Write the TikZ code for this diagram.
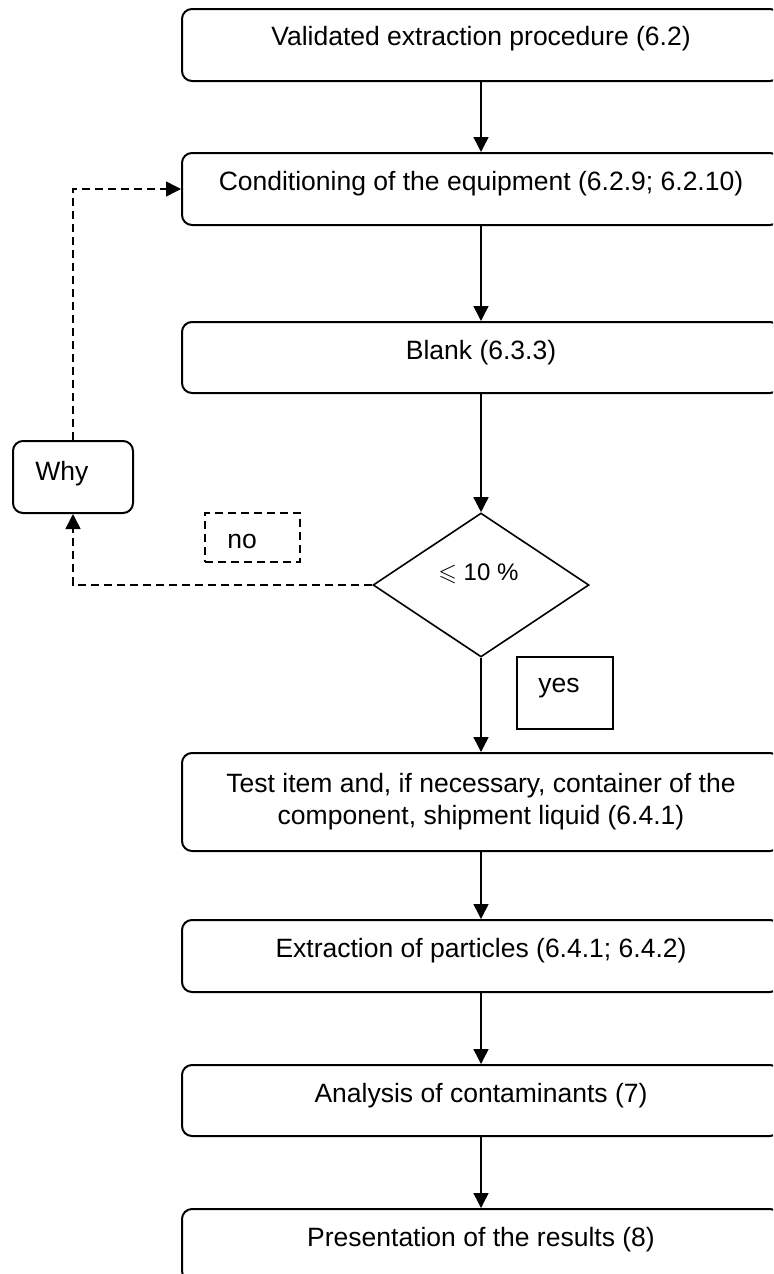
\documentclass[tikz,border=0pt]{standalone}
\usepackage{amssymb}
\usepackage{fontspec}
\setmainfont{Liberation Sans}
\usetikzlibrary{arrows.meta,shapes.geometric}
\tikzset{
  box/.style={draw, line width=1pt, rounded corners=5pt, minimum width=299pt, inner sep=0pt},
  sidebox/.style={draw, line width=1pt, rounded corners=5pt, minimum width=60pt, minimum height=36pt, inner sep=0pt},
  tagbox/.style={draw, line width=0.8pt, inner sep=0pt},
  txt/.style={anchor=base, inner sep=0pt, font=\fontsize{13.25}{16}\selectfont},
  ltxt/.style={txt, anchor=base west},
  decision/.style={draw, diamond, line width=0.8pt, inner sep=0pt, minimum width=108pt, minimum height=72pt},
  conn/.style={line width=0.75pt, -{Triangle[width=7.5pt,length=7.5pt]}},
  dconn/.style={conn, dash pattern=on 4pt off 2.5pt},
  dashbox/.style={tagbox, dash pattern=on 4pt off 2.5pt}
}
\begin{document}
\begin{tikzpicture}[x=0.5pt,y=-0.5pt]
\useasboundingbox (0,0) rectangle (773,1274);
\clip (0,0) rectangle (773,1274);

% main boxes
\node[box, minimum height=36pt] (b1) at (481,45) {};
\node[box, minimum height=36pt] (b2) at (481,189) {};
\node[box, minimum height=35.5pt] (b3) at (481,357.5) {};
\node[decision] (d) at (481,585) {};
\node[box, minimum height=49pt] (b4) at (481,802) {};
\node[box, minimum height=36pt] (b5) at (481,956) {};
\node[box, minimum height=35.5pt] (b6) at (481,1100.5) {};
\node[box, minimum height=36pt] (b7) at (481,1245) {};

% side boxes
\node[sidebox] (why) at (73,477) {};
\node[dashbox, minimum width=47.5pt, minimum height=24.5pt] (nob) at (252.5,537.5) {};
\node[tagbox, minimum width=48pt, minimum height=36pt] (yesb) at (565,693) {};

% texts
\node[txt] (t1) at (481,46) {Validated extraction procedure (6.2)};
\node[txt] (t2) at (481,190) {Conditioning of the equipment (6.2.9; 6.2.10)};
\node[txt] (t3) at (481,359) {Blank (6.3.3)};
\node[ltxt, font=\fontsize{12}{14}\selectfont] (td) at (438,580) {$\leqslant$ 10 \%};
\node[txt] (t4a) at (481,792) {Test item and, if necessary, container of the};
\node[txt] (t4b) at (481,824) {component, shipment liquid (6.4.1)};
\node[txt] (t5) at (481,957) {Extraction of particles (6.4.1; 6.4.2)};
\node[txt] (t6) at (481,1102) {Analysis of contaminants (7)};
\node[txt] (t7) at (481,1246) {Presentation of the results (8)};
\node[ltxt] (twhy) at (35,480) {Why};
\node[ltxt] (tno) at (227,548) {no};
\node[ltxt] (tyes) at (538,692) {yes};

% connectors
\draw[conn] (b1.south) -- (b2.north);
\draw[conn] (b2.south) -- (b3.north);
\draw[conn] (b3.south) -- (d.north);
\draw[conn] (d.south) -- (b4.north);
\draw[conn] (b4.south) -- (b5.north);
\draw[conn] (b5.south) -- (b6.north);
\draw[conn] (b6.south) -- (b7.north);
\draw[dconn] (d.west) -| (why.south);
\draw[dconn] (why.north) |- (b2.west);
\end{tikzpicture}
\end{document}
